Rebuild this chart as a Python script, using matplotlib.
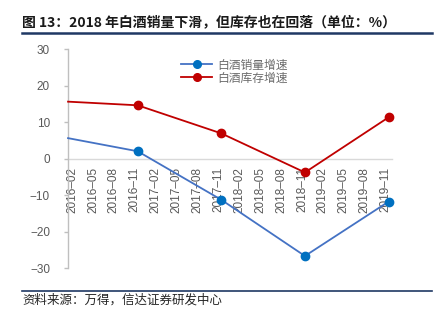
import matplotlib
matplotlib.use("Agg")
import matplotlib.pyplot as plt
import matplotlib.transforms as mtransforms
from matplotlib.lines import Line2D

# ---- data ----
months = [f"{y}-{m:02d}" for y in range(2016, 2020) for m in range(1, 13)]
months = months[1:]  # 2016-02 ... 2019-12
tick_labels = months[::3]  # 2016-02 ... 2019-11
point_dates = ["2016-02", "2016-12", "2017-12", "2018-12", "2019-12"]
sales_growth = [5.6, 2.0, -11.3, -26.7, -11.8]
inventory_growth = [15.6, 14.6, 6.9, -3.8, 11.3]
series_names = ["白酒销量增速", "白酒库存增速"]
yticks = [-30, -20, -10, 0, 10, 20, 30]

title = "图 13：2018 年白酒销量下滑，但库存也在回落（单位：%）"
source = "资料来源：万得，信达证券研发中心"

plt.rcParams['font.family'] = ['Liberation Sans', 'Noto Sans CJK SC', 'DejaVu Sans']

fig = plt.figure(figsize=(4.39, 3.21), dpi=100)
ax = fig.add_axes([0.155, 0.165, 0.738, 0.682])

xpos = [months.index(d) for d in point_dates]

ax.plot(xpos, sales_growth, color="#4472C4", lw=1.3, marker="o", ms=6,
        markerfacecolor="#0070C0", markeredgecolor="#0070C0",
        markevery=[1, 2, 3, 4], zorder=3, clip_on=False)
ax.plot(xpos, inventory_growth, color="#C00000", lw=1.3, marker="o", ms=6,
        markerfacecolor="#C00000", markeredgecolor="#C00000",
        markevery=[1, 2, 3, 4], zorder=3, clip_on=False)

ax.set_xlim(0, len(months) - 0.5)
ax.set_ylim(-30, 30)
ax.set_yticks(yticks)
ax.set_yticklabels([f"{v}" if v >= 0 else f"−{-v}" for v in yticks])

tpos = [months.index(t) for t in tick_labels]
ax.set_xticks(tpos)
ax.set_xticklabels([t.replace("-", "–") for t in tick_labels])
ax.tick_params(axis='x', length=0, pad=6, labelrotation=90,
               labelsize=8.5, labelcolor="#595959")

ax.spines['top'].set_visible(False)
ax.spines['right'].set_visible(False)
ax.spines['bottom'].set_position(('data', 0))
ax.spines['bottom'].set_color("#D9D9D9")
ax.spines['bottom'].set_linewidth(1.0)
ax.spines['bottom'].set_zorder(1)
ax.spines['left'].set_color("#BFBFBF")
ax.spines['left'].set_linewidth(1.0)
ax.tick_params(axis='y', length=3, width=1.0, color="#BFBFBF",
               labelsize=8.5, labelcolor="#595959", pad=10)

handles = [
    Line2D([], [], color="#4472C4", lw=1.3, marker="o", ms=5.5,
           markerfacecolor="#0070C0", markeredgecolor="#0070C0"),
    Line2D([], [], color="#C00000", lw=1.3, marker="o", ms=5.5,
           markerfacecolor="#C00000", markeredgecolor="#C00000"),
]
leg = ax.legend(handles, series_names, loc="upper left", bbox_to_anchor=(0.32, 1.0),
                frameon=False, labelspacing=0.0, handlelength=2.6,
                handletextpad=0.5, borderpad=0.3,
                prop={'family': ['Noto Sans CJK SC', 'DejaVu Sans'], 'size': 8.5})
for t in leg.get_texts():
    t.set_color("#6b6b6b")

fig.text(0.05, 0.931, title, fontsize=10, fontweight="bold", color="#1a1a1a",
         va="center", ha="left", family=['Noto Sans CJK SC', 'DejaVu Sans'])
fig.add_artist(Line2D([0.05, 0.984], [0.897, 0.897], transform=fig.transFigure,
                      color="#1F3864", lw=1.8))
fig.add_artist(Line2D([0.05, 0.984], [0.0935, 0.0935], transform=fig.transFigure,
                      color="#1F3864", lw=1.2))
fig.text(0.05, 0.065, source, fontsize=9, color="#262626", va="center", ha="left",
         family=['Noto Sans CJK SC', 'DejaVu Sans'], style="italic")

fig.canvas.draw()
offset = mtransforms.ScaledTranslation(4 / 100, 0, fig.dpi_scale_trans)
for tick in ax.xaxis.get_major_ticks():
    tick.label1.set_transform(tick.label1.get_transform() + offset)

fig.savefig("out.png", dpi=100)
